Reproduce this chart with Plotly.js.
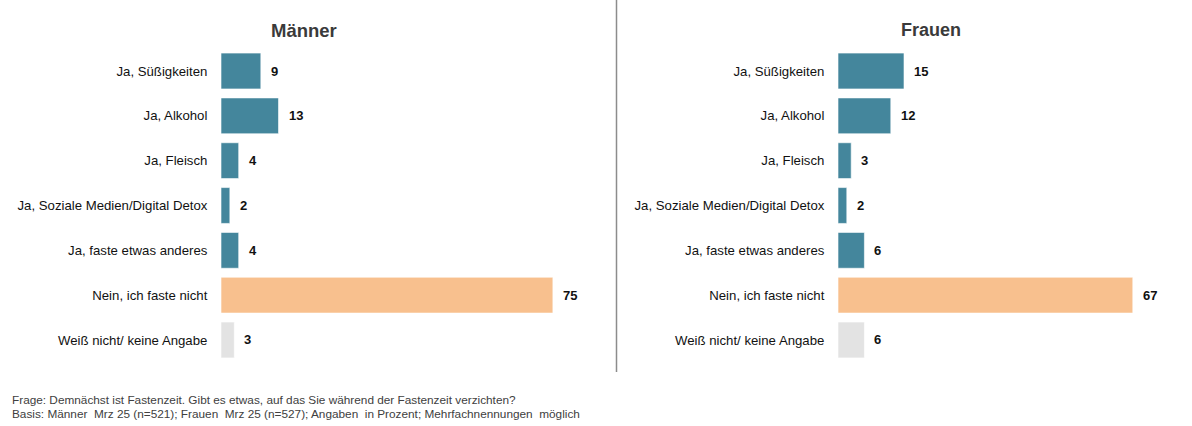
<!DOCTYPE html>
<html><head><meta charset="utf-8">
<script src="https://cdn.plot.ly/plotly-3.0.1.min.js"></script>
<style>html,body{margin:0;padding:0;background:#fff}#chart{width:1192px;height:426px}</style>
</head><body><div id="chart"></div>
<script>
const categories = ["Ja, Süßigkeiten","Ja, Alkohol","Ja, Fleisch","Ja, Soziale Medien/Digital Detox","Ja, faste etwas anderes","Nein, ich faste nicht","Weiß nicht/ keine Angabe"];
const maennerValues = [9,13,4,2,4,75,3];
const frauenValues = [15,12,3,2,6,67,6];
const panelTitles = ["Männer","Frauen"];
const barColors = ["#44869C","#44869C","#44869C","#44869C","#44869C","#F8C08E","#E3E3E3"];
const footerLines = ["Frage: Demnächst ist Fastenzeit. Gibt es etwas, auf das Sie während der Fastenzeit verzichten?",
  "Basis: Männer\u00a0 Mrz 25 (n=521); Frauen\u00a0 Mrz 25 (n=527); Angaben\u00a0 in Prozent; Mehrfachnennungen\u00a0 möglich"];

const W = 1192, H = 426;
const font = "Arial, 'Liberation Sans', sans-serif";
function trace(vals, xa, ya){
  return {type:'bar', orientation:'h', x:vals, y:categories, xaxis:xa, yaxis:ya,
    marker:{color:barColors, line:{color:'rgba(255,255,255,0.6)', width:1}}, hoverinfo:'skip', showlegend:false};
}
const data = [trace(maennerValues,'x','y'), trace(frauenValues,'x2','y2')];
const ydom = [1-362.4/H, 1-48.6/H];
const yax = (anchor)=>({domain:ydom, anchor:anchor, type:'category', autorange:'reversed',
  showline:false, showgrid:false, zeroline:false, ticks:'outside', ticklen:10, tickcolor:'rgba(0,0,0,0)',
  tickfont:{family:font, size:13.2, color:'#111'}, fixedrange:true});
const xax = (dom, anchor)=>({domain:dom, anchor:anchor, range:[0,80], visible:false, fixedrange:true});
const annotations = [];
function addVals(vals, xa, ya){
  vals.forEach((v,i)=>annotations.push({x:v, y:categories[i], xref:xa, yref:ya, text:String(v),
    showarrow:false, xanchor:'left', yanchor:'middle', xshift:8,
    font:{family:font, size:13, color:'#111', weight:'bold'}}));
}
addVals(maennerValues,'x','y');
addVals(frauenValues,'x2','y2');
annotations.push({x:304/W, y:1-30/H, xref:'paper', yref:'paper', text:'<b>'+panelTitles[0]+'</b>', showarrow:false, xanchor:'center', yanchor:'middle', font:{family:font, size:18.5, color:'#3a3a3a'}});
annotations.push({x:931/W, y:1-30/H, xref:'paper', yref:'paper', text:'<b>'+panelTitles[1]+'</b>', showarrow:false, xanchor:'center', yanchor:'middle', font:{family:font, size:18, color:'#3a3a3a'}});
annotations.push({x:10/W, y:1-400/H, xref:'paper', yref:'paper', text:footerLines[0], showarrow:false, xanchor:'left', yanchor:'middle', font:{family:font, size:11.8, color:'#404040'}});
annotations.push({x:10/W, y:1-414/H, xref:'paper', yref:'paper', text:footerLines[1], showarrow:false, xanchor:'left', yanchor:'middle', font:{family:font, size:11.8, color:'#404040'}});

const layout = {width:W, height:H, margin:{l:0,r:0,t:0,b:0}, paper_bgcolor:'#fff', plot_bgcolor:'rgba(0,0,0,0)',
  bargap:0.2, showlegend:false,
  xaxis:xax([221/W, 575/W],'y'), yaxis:yax('x'),
  xaxis2:xax([838/W, 1190/W],'y2'), yaxis2:yax('x2'),
  annotations:annotations,
  shapes:[{type:'line', xref:'paper', yref:'paper', x0:616.5/W, x1:616.5/W, y0:1, y1:1-372/H, line:{color:'#8c8c8c', width:1.5}}]
};
Plotly.newPlot('chart', data, layout, {displayModeBar:false, staticPlot:true});
</script></body></html>
